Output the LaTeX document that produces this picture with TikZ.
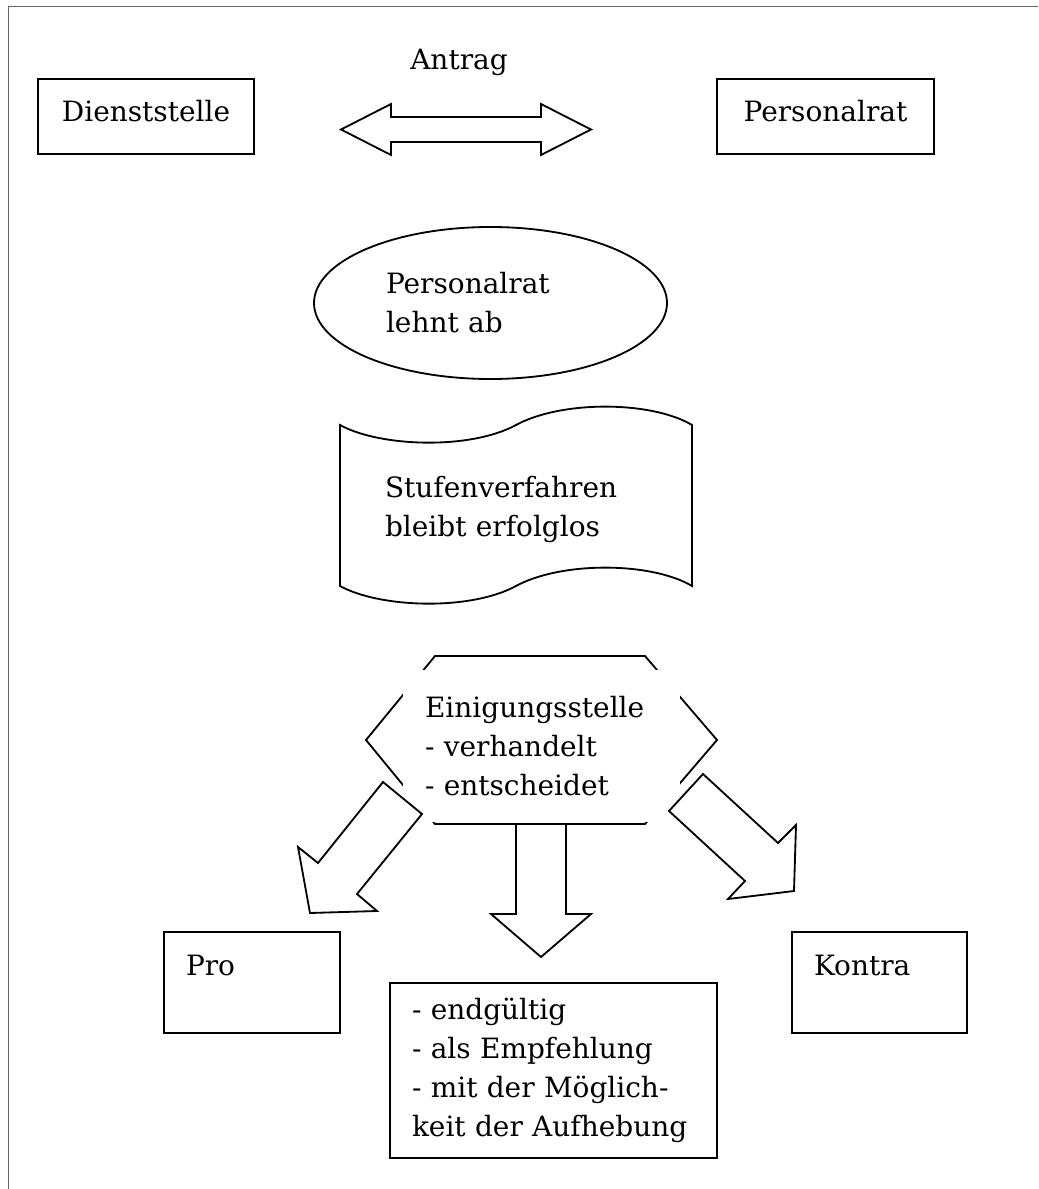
\documentclass[tikz,border=0pt]{standalone}
\usepackage{fontspec}
\setmainfont{DejaVu Serif}
\usepackage{tikz}
\usetikzlibrary{shapes.geometric}
\newlength{\pxl}
\setlength{\pxl}{0.025cm}
\newcommand{\schrift}{\fontsize{19.9pt}{27.7pt}\selectfont}
\tikzset{
  kasten/.style={rectangle, draw, line width=1.3pt, font=\schrift, inner xsep=22\pxl},
  oval/.style={ellipse, draw, line width=1.3pt, font=\schrift},
  textfeld/.style={font=\schrift},
  form/.style={draw, line width=1.3pt, line join=miter, fill=white},
  rahmen/.style={draw=black!60, line width=0.6pt}
}

\begin{document}
\begin{tikzpicture}[x=1\pxl, y=-1\pxl]
    \useasboundingbox (0,0) rectangle (1038,1189);
    \draw[rahmen] (8,1189) -- (8,6) -- (1038,6);

    \node[kasten, minimum width=216\pxl, minimum height=75\pxl,
          text height=20\pxl, text depth=9\pxl] (dienst) at (146,116.5) {Dienststelle};
    \node[kasten, minimum width=217\pxl, minimum height=75\pxl,
          text height=20\pxl, text depth=9\pxl] (personalrat) at (825.5,116.5) {Personalrat};
    \node[textfeld, anchor=base] (antrag) at (459,70) {Antrag};
    \draw[form] (341,129.5) -- (391,104) -- (391,117) -- (541,117) -- (541,104)
      -- (591,129.5) -- (541,155) -- (541,142) -- (391,142) -- (391,155) -- cycle;

    \node[oval, minimum width=353\pxl, minimum height=152\pxl,
          text width=209\pxl, align=left] (ablehnung) at (490.5,303) {Personalrat\\lehnt ab};

    \draw[form] (340,425) .. controls (380,447) and (470,450) .. (516,425)
      .. controls (562,400) and (652,401) .. (692,425) -- (692,586)
      .. controls (652,562) and (562,561) .. (516,586)
      .. controls (470,611) and (380,608) .. (340,586) -- cycle;
    \node[textfeld, text width=262\pxl, align=left] (stufen) at (516,509)
      {Stufenverfahren\\bleibt erfolglos};

    \draw[form] (435,656) -- (645,656) -- (717,740) -- (645,824) -- (435,824) -- (366,740) -- cycle;
    \node[textfeld, fill=white, inner xsep=22\pxl, text width=233\pxl,
          minimum height=152\pxl, align=left] (einigung) at (541.5,746)
      {Einigungsstelle\\- verhandelt\\- entscheidet};

    \draw[form] (383,782) -- (318,863) -- (298,847) -- (310,913) -- (377,911)
      -- (357,894) -- (422,814) -- cycle;
    \draw[form] (516,824) -- (566,824) -- (566,914) -- (591,914) -- (541,957)
      -- (491,914) -- (516,914) -- cycle;
    \draw[form] (703,774) -- (778,843) -- (796,825) -- (794,891) -- (728,899)
      -- (745,881) -- (669,811) -- cycle;

    \node[kasten, text width=132\pxl, minimum height=101\pxl, align=left,
          text height=20\pxl, text depth=35\pxl] (pro) at (252,982.5) {Pro};
    \node[kasten, text width=131\pxl, minimum height=101\pxl, align=left,
          text height=20\pxl, text depth=35\pxl] (kontra) at (879.5,982.5) {Kontra};
    \node[kasten, text width=283\pxl, minimum height=175\pxl, align=left] (ergebnis) at (553.5,1070.5)
      {- endgültig\\- als Empfehlung\\- mit der Möglich-\\keit der Aufhebung};
\end{tikzpicture}
\end{document}
